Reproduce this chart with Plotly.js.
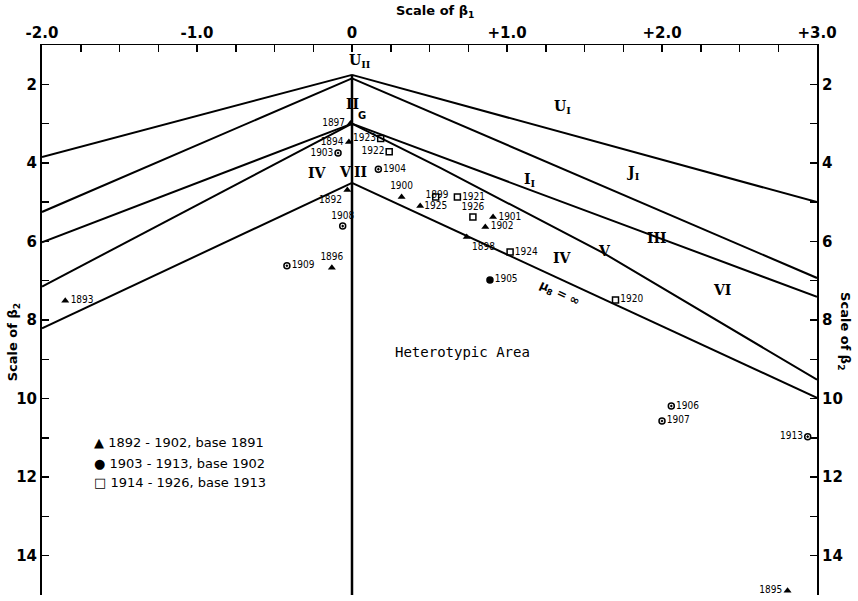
<!DOCTYPE html>
<html>
<head>
<meta charset="utf-8">
<script src="https://cdn.plot.ly/plotly-3.0.1.min.js"></script>
<style>html,body{margin:0;padding:0;background:#fff;}#chart{width:858px;height:601px;}</style>
</head>
<body>
<div id="chart"></div>
<script>
// ---- Data (β1, β2) ----
// Triangles: 1892-1902, base 1891
var triYears = ['1892','1893','1894','1895','1896','1897','1898','1899','1900','1901','1902'];
var triB1 = [-0.03, -1.85, -0.02, 2.81, -0.13, -0.01, 0.74, 0.44, 0.32, 0.91, 0.86];
var triB2 = [4.69, 7.51, 3.47, 14.89, 6.67, 3.00, 5.89, 5.10, 4.87, 5.38, 5.63];
// Circles: 1903-1913, base 1902
var cirYears = ['1903','1904','1905','1906','1907','1908','1909','1913'];
var cirB1 = [-0.09, 0.17, 0.89, 2.06, 2.00, -0.06, -0.42, 2.94];
var cirB2 = [3.75, 4.16, 6.98, 10.19, 10.57, 5.61, 6.62, 10.97];
// Squares: 1914-1926, base 1913
var sqYears = ['1920','1921','1922','1923','1924','1925','1926'];
var sqB1 = [1.70, 0.68, 0.24, 0.185, 1.02, 0.54, 0.78];
var sqB2 = [7.49, 4.87, 3.72, 3.38, 6.27, 4.87, 5.38];

// Boundary curves
var leftB1 = [-2, 0];
var left1B2 = [3.85, 1.76];
var left2B2 = [5.25, 1.85];
var left3B2 = [6.02, 3.00];
var left4B2 = [7.15, 3.00];
var left5B2 = [8.21, 4.51];
var rightB1 = [0, 3];
var right1B2 = [1.76, 5.00];
var right2B2 = [1.85, 6.93];
var right3B2 = [3.00, 7.41];
var right4B1 = [0, 0.57, 1.62, 3];
var right4B2 = [3.00, 4.13, 6.29, 9.52];
var right5B2 = [4.51, 9.98];
var axisB1 = [0, 0];
var axisB2 = [1.76, 15];

// Tick labels
var xTickVals = [-2, -1, 0, 1, 2, 3];
var xTickText = ['-2.0', '-1.0', '0', '+1.0', '+2.0', '+3.0'];
var yTickVals = [2, 4, 6, 8, 10, 12, 14];
var yTickText = ['2', '4', '6', '8', '10', '12', '14'];

// Label placement (style)
var triPos = ['bottom left','middle right','middle left','middle left','top center','middle left','bottom right','top right','top center','middle right','middle right'];
var cirPos = ['middle left','middle right','middle right','middle right','middle right','top center','middle right','middle left'];
var sqPos = ['middle right','middle right','middle left','middle left','middle right','bottom center','top center'];
var cirSym = ['circle-open-dot','circle-open-dot','circle','circle-open-dot','circle-open-dot','circle-open-dot','circle-open-dot','circle-open-dot'];

var lineStyle = {color: '#000', width: 2};
function ln(x, y) {
  return {x: x, y: y, mode: 'lines', line: lineStyle, hoverinfo: 'skip', showlegend: false};
}
var labelFont = {family: 'Liberation Sans Narrow, DejaVu Sans Condensed, sans-serif', size: 10, color: '#000'};

var traces = [
  ln(leftB1, left1B2), ln(leftB1, left2B2), ln(leftB1, left3B2), ln(leftB1, left4B2), ln(leftB1, left5B2),
  ln(rightB1, right1B2), ln(rightB1, right2B2), ln(rightB1, right3B2), ln(right4B1, right4B2), ln(rightB1, right5B2),
  {x: axisB1, y: axisB2, mode: 'lines', line: {color: '#000', width: 2.5}, hoverinfo: 'skip', showlegend: false},
  {x: triB1, y: triB2, text: triYears, mode: 'markers+text', textposition: triPos, textfont: labelFont,
   marker: {symbol: 'triangle-up', size: 7, color: '#000'}, cliponaxis: false, showlegend: false},
  {x: cirB1, y: cirB2, text: cirYears, mode: 'markers+text', textposition: cirPos, textfont: labelFont,
   marker: {symbol: cirSym, size: 6, color: '#000', line: {color: '#000', width: 1.5}}, cliponaxis: false, showlegend: false},
  {x: sqB1, y: sqB2, text: sqYears, mode: 'markers+text', textposition: sqPos, textfont: labelFont,
   marker: {symbol: 'square-open', size: 6, color: '#000', line: {color: '#000', width: 1.5}}, cliponaxis: false, showlegend: false},
  {x: [0], y: [5], yaxis: 'y2', mode: 'markers', marker: {opacity: 0}, hoverinfo: 'skip', showlegend: false}
];

var tickFont = {family: 'DejaVu Sans, sans-serif', size: 15, color: '#000', weight: 'bold'};
var serif = {family: 'DejaVu Serif, Liberation Serif, serif', size: 14, color: '#000', weight: 'bold'};
function ann(x, y, text, font, extra) {
  var a = {x: x, y: y, xref: 'x', yref: 'y', text: text, showarrow: false, font: font};
  for (var k in extra) a[k] = extra[k];
  return a;
}
var legFont = {family: 'DejaVu Sans, sans-serif', size: 13, color: '#000'};
var titleFont = {family: 'DejaVu Sans, sans-serif', size: 13, color: '#000', weight: 'bold'};
var annotations = [
  ann(-0.035, 1.40, 'U<sub>II</sub>', serif, {xanchor: 'left'}),
  ann(0, 2.50, 'II', serif),
  ann(0.065, 2.80, 'G', {family: 'DejaVu Sans, sans-serif', size: 10, color: '#000', weight: 'bold'}),
  ann(-0.22, 4.26, 'IV', serif),
  ann(-0.045, 4.23, 'V', serif),
  ann(0.055, 4.23, 'II', serif),
  ann(1.36, 2.58, 'U<sub>I</sub>', serif),
  ann(1.81, 4.26, 'J<sub>I</sub>', serif),
  ann(1.15, 4.44, 'I<sub>I</sub>', serif),
  ann(1.97, 5.91, 'III', serif),
  ann(1.36, 6.42, 'IV', serif),
  ann(1.63, 6.25, 'V', serif),
  ann(2.39, 7.23, 'VI', serif),
  ann(1.34, 7.33, 'μ<sub>8</sub> = ∞', {family: 'DejaVu Sans, sans-serif', size: 12, color: '#000', weight: 'bold'}, {textangle: 25}),
  ann(0.71, 8.81, 'Heterotypic Area', {family: 'DejaVu Sans Mono, monospace', size: 14, color: '#000'}),
  ann(-1.68, 11.13, '▲ 1892 - 1902, base 1891', legFont, {xanchor: 'left'}),
  ann(-1.68, 11.66, '● 1903 - 1913, base 1902', legFont, {xanchor: 'left'}),
  ann(-1.68, 12.13, '□ 1914 - 1926, base 1913', legFont, {xanchor: 'left'}),
  {xref: 'paper', yref: 'paper', x: 0.507, y: 1.06, xanchor: 'center', yanchor: 'middle',
   text: 'Scale of β<sub>1</sub>', showarrow: false, font: titleFont},
  {xref: 'paper', yref: 'paper', x: -0.037, y: 0.46, xanchor: 'center', yanchor: 'middle',
   text: 'Scale of β<sub>2</sub>', showarrow: false, textangle: -90, font: titleFont},
  {xref: 'paper', yref: 'paper', x: 1.036, y: 0.48, xanchor: 'center', yanchor: 'middle',
   text: 'Scale of β<sub>2</sub>', showarrow: false, textangle: 90, font: titleFont}
];

var yCommon = {
  range: [15, 1], autorange: false, tickvals: yTickVals, ticktext: yTickText,
  ticks: 'inside', ticklen: 7, tickwidth: 1.5, tickcolor: '#000',
  showline: true, linecolor: '#000', linewidth: 2, showgrid: false, zeroline: false,
  tickfont: tickFont,
  minor: {dtick: 1, tick0: 1, ticks: 'inside', ticklen: 7, tickwidth: 1.5, tickcolor: '#000', showgrid: false}
};
var yaxis = Object.assign({}, yCommon, {side: 'left'});
var yaxis2 = Object.assign({}, yCommon, {side: 'right', overlaying: 'y'});

var layout = {
  width: 858, height: 601,
  margin: {l: 42, r: 41, t: 45, b: 6},
  paper_bgcolor: '#fff', plot_bgcolor: '#fff',
  showlegend: false,
  xaxis: {
    side: 'top', range: [-2, 3], autorange: false,
    tickvals: xTickVals, ticktext: xTickText,
    ticks: 'inside', ticklen: 7, tickwidth: 1.5, tickcolor: '#000',
    showline: true, linecolor: '#000', linewidth: 1.5, showgrid: false, zeroline: false,
    tickfont: tickFont,
    minor: {dtick: 0.25, tick0: 0, ticks: 'inside', ticklen: 7, tickwidth: 1.5, tickcolor: '#000', showgrid: false}
  },
  yaxis: yaxis,
  yaxis2: yaxis2,
  annotations: annotations
};

Plotly.newPlot('chart', traces, layout, {displayModeBar: false, staticPlot: true});
</script>
</body>
</html>
